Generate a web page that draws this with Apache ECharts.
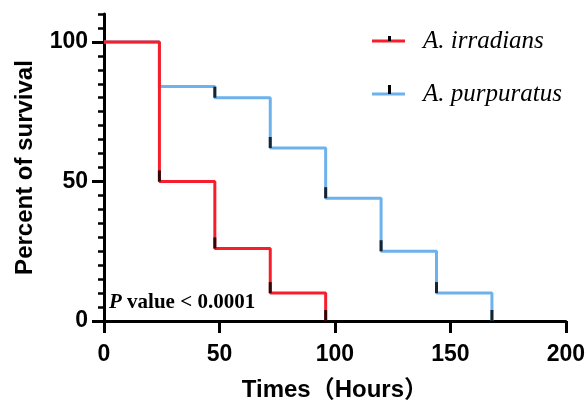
<!DOCTYPE html>
<html lang="en">
<head>
    <meta charset="UTF-8">
    <title>Survival</title>
    <style>
        html, body {
            margin: 0;
            padding: 0;
            background: #fff;
        }

        #main {
            width: 588px;
            height: 407px;
        }
    </style>
</head>
<body>
<div id="main"></div>
<script src="https://cdn.jsdelivr.net/npm/echarts@6/dist/echarts.min.js"></script>
<script>
    // step points: [hours, percent]
    var irradians = [[0, 100], [24, 50], [48, 26], [72, 10], [96, 0]];
    var purpuratus = [[0, 100], [24, 84], [48, 80], [72, 62], [96, 44], [120, 25], [144, 10], [168, 0]];
    // black tick marks at the foot of each drop
    var irradiansMarks = [[24, 50], [48, 26], [72, 10], [96, 0]];
    var purpuratusMarks = [[48, 80], [72, 62], [96, 44], [120, 25], [144, 10], [168, 0]];

    var yLabels = [0, 50, 100];
    var yMinor = [0, 5, 10, 15, 20, 25, 30, 35, 40, 45, 50, 55, 60, 65, 70, 75, 80, 85, 90, 95, 100, 105, 110];

    var red = '#f51e2a';
    var blue = '#6db2ec';
    var sans = 'Liberation Sans, Arial, Noto Sans CJK SC';
    var serif = 'Liberation Serif, Times New Roman, serif';

    var markSeries = function (name, data) {
        return {
            name: name,
            type: 'scatter',
            data: data,
            symbol: 'rect',
            symbolSize: [3, 11],
            symbolOffset: [0, '-50%'],
            itemStyle: {color: '#000'},
            z: 5,
            silent: true
        };
    };

    var myChart = echarts.init(document.getElementById('main'));
    myChart.setOption({
        animation: false,
        grid: {left: 104, right: 18, top: 14, bottom: 84},
        xAxis: {
            type: 'value',
            min: 0,
            max: 200,
            interval: 50,
            name: 'Times（Hours）',
            nameLocation: 'middle',
            nameGap: 57,
            nameTextStyle: {fontFamily: sans, fontSize: 24, fontWeight: 'bold', color: '#000'},
            axisLine: {lineStyle: {color: '#000', width: 3}},
            axisTick: {length: 12, lineStyle: {color: '#000', width: 3}},
            axisLabel: {margin: 22, fontFamily: sans, fontSize: 23, fontWeight: 'bold', color: '#000'},
            splitLine: {show: false}
        },
        yAxis: [
            {
                type: 'value',
                min: 0,
                max: 110,
                name: 'Percent of survival',
                nameLocation: 'middle',
                nameGap: 67,
                nameTextStyle: {fontFamily: sans, fontSize: 24, fontWeight: 'bold', color: '#000'},
                axisLine: {show: true, lineStyle: {color: '#000', width: 3}},
                axisTick: {show: true, customValues: yLabels, length: 12, lineStyle: {color: '#000', width: 3}},
                axisLabel: {customValues: yLabels, margin: 16, fontFamily: sans, fontSize: 23, fontWeight: 'bold', color: '#000'},
                splitLine: {show: false}
            },
            {
                type: 'value',
                min: 0,
                max: 110,
                position: 'left',
                axisLine: {show: false},
                axisTick: {show: true, customValues: yMinor, length: 6, lineStyle: {color: '#000', width: 2.5}},
                axisLabel: {show: false},
                splitLine: {show: false}
            }
        ],
        series: [
            {
                name: 'A. purpuratus',
                type: 'line',
                step: 'end',
                data: purpuratus,
                showSymbol: false,
                lineStyle: {color: blue, width: 3},
                itemStyle: {color: blue},
                z: 2
            },
            {
                name: 'A. irradians',
                type: 'line',
                step: 'end',
                data: irradians,
                showSymbol: false,
                lineStyle: {color: red, width: 3},
                itemStyle: {color: red},
                z: 3
            },
            markSeries('irradians marks', irradiansMarks),
            markSeries('purpuratus marks', purpuratusMarks)
        ],
        graphic: [
            // legend
            {type: 'line', shape: {x1: 372, y1: 41, x2: 405, y2: 41}, style: {stroke: red, lineWidth: 3}},
            {type: 'rect', shape: {x: 388, y: 36, width: 3, height: 5}, style: {fill: '#000'}},
            {
                type: 'text', left: 423, top: 29,
                style: {text: 'A. irradians', font: 'italic 25px ' + serif, fill: '#000'}
            },
            {type: 'line', shape: {x1: 372, y1: 94, x2: 405, y2: 94}, style: {stroke: blue, lineWidth: 3}},
            {type: 'rect', shape: {x: 388, y: 85, width: 3, height: 9}, style: {fill: '#000'}},
            {
                type: 'text', left: 423, top: 82,
                style: {text: 'A. purpuratus', font: 'italic 25px ' + serif, fill: '#000'}
            },
            // p value note
            {
                type: 'text', left: 109, top: 292,
                style: {
                    text: '{p|P} value < 0.0001',
                    font: 'bold 21px ' + serif,
                    fill: '#000',
                    rich: {p: {fontStyle: 'italic', fontWeight: 'bold', fontSize: 21, fontFamily: serif}}
                }
            }
        ]
    });
</script>
</body>
</html>
